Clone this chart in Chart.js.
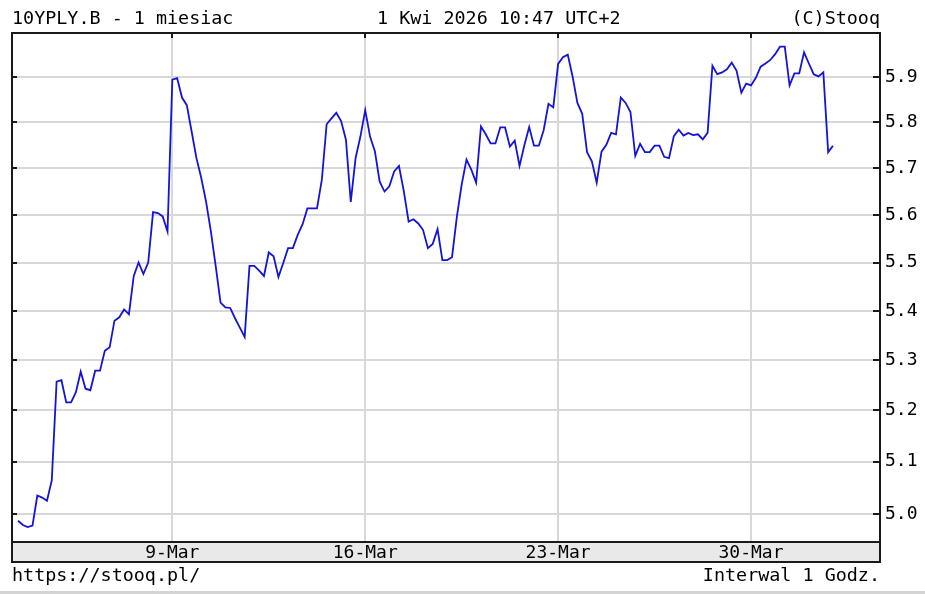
<!DOCTYPE html>
<html>
<head>
<meta charset="utf-8">
<script src="https://cdn.jsdelivr.net/npm/chart.js@4.4.1/dist/chart.umd.min.js"></script>
<style>
  body { margin: 0; background: #fff; }
  #wrap { position: relative; width: 925px; height: 594px; font-family: "DejaVu Sans Mono", monospace; font-size: 18.4px; color: #000; }
  #wrap canvas { position: absolute; left: 0; top: 0; }
  .txt { position: absolute; white-space: pre; line-height: 18px; }
  .edge { position: absolute; left: 0; top: 591px; width: 925px; height: 3px; background: #d4d4d4; }
</style>
</head>
<body>
<div id="wrap">
  <canvas id="yieldChart" width="925" height="594"></canvas>
  <div class="txt" style="left:12px; top:9px;">10YPLY.B - 1 miesiac</div>
  <div class="txt" style="left:377px; top:9px;">1 Kwi 2026 10:47 UTC+2</div>
  <div class="txt" style="right:45px; top:9px;">(C)Stooq</div>
  <div class="txt" style="left:12px; top:566px;">https://stooq.pl/</div>
  <div class="txt" style="right:45px; top:566px;">Interwal 1 Godz.</div>
  <div class="edge"></div>
</div>
<script>
// hourly closes, 8 bars per trading day, from Mar 3 to Apr 1 10:00
const yields = [
  4.987, 4.979, 4.975, 4.978, 5.035, 5.031, 5.025, 5.064,
  5.257, 5.260, 5.216, 5.216, 5.236, 5.277, 5.243, 5.240,
  5.279, 5.279, 5.319, 5.326, 5.380, 5.387, 5.403, 5.393,
  5.472, 5.500, 5.476, 5.500, 5.606, 5.604, 5.597, 5.565,
  5.895, 5.898, 5.855, 5.838, 5.780, 5.722, 5.679, 5.628,
  5.565, 5.492, 5.417, 5.407, 5.406, 5.385, 5.366, 5.347,
  5.493, 5.493, 5.483, 5.472, 5.521, 5.513, 5.470, 5.499,
  5.530, 5.530, 5.558, 5.580, 5.614, 5.614, 5.614, 5.675,
  5.796, 5.809, 5.821, 5.803, 5.762, 5.628, 5.722, 5.769,
  5.827, 5.769, 5.737, 5.671, 5.650, 5.661, 5.693, 5.705,
  5.651, 5.586, 5.591, 5.582, 5.568, 5.530, 5.539, 5.570,
  5.505, 5.505, 5.511, 5.596, 5.665, 5.719, 5.697, 5.669,
  5.791, 5.774, 5.754, 5.754, 5.789, 5.789, 5.747, 5.760,
  5.705, 5.750, 5.790, 5.749, 5.749, 5.783, 5.841, 5.833,
  5.930, 5.945, 5.951, 5.902, 5.843, 5.819, 5.735, 5.715,
  5.669, 5.736, 5.751, 5.777, 5.774, 5.855, 5.843, 5.823,
  5.727, 5.753, 5.735, 5.735, 5.749, 5.749, 5.725, 5.722,
  5.770, 5.784, 5.771, 5.777, 5.772, 5.774, 5.763, 5.777,
  5.926, 5.907, 5.911, 5.918, 5.933, 5.915, 5.866, 5.886,
  5.882, 5.899, 5.924, 5.931, 5.939, 5.952, 5.969, 5.969,
  5.882, 5.909, 5.909, 5.956, 5.931, 5.907, 5.902, 5.911,
  5.735, 5.749
];

// bar index where each labelled week starts
const weekStart = [32, 72, 112, 152];
const weekLabels = ["9-Mar", "16-Mar", "23-Mar", "30-Mar"];
const yTicks = [5.0, 5.1, 5.2, 5.3, 5.4, 5.5, 5.6, 5.7, 5.8, 5.9];

const monoFont = { family: "DejaVu Sans Mono", size: 18 };
const gridColor = "#d8d8d8";

const framePlugin = {
  id: "frame",
  beforeDraw(chart) {
    const { ctx, chartArea: a } = chart;
    ctx.save();
    ctx.fillStyle = "#e9e9e9";
    ctx.fillRect(a.left, a.bottom, a.right - a.left, 20);
    ctx.restore();
  },
  afterDraw(chart) {
    const { ctx, chartArea: a, scales } = chart;
    ctx.save();
    ctx.strokeStyle = "#1a1a1a";
    ctx.lineWidth = 2;
    ctx.strokeRect(a.left, a.top, a.right - a.left, a.bottom - a.top + 20);
    ctx.beginPath();
    ctx.moveTo(a.left, a.bottom);
    ctx.lineTo(a.right, a.bottom);
    // small inner tick marks
    yTicks.forEach((v) => {
      const y = Math.round(scales.y.getPixelForValue(v));
      ctx.moveTo(a.right - 7, y);
      ctx.lineTo(a.right, y);
      ctx.moveTo(a.left, y);
      ctx.lineTo(a.left + 5, y);
    });
    weekStart.forEach((i) => {
      const x = Math.round(scales.x.getPixelForValue(i));
      ctx.moveTo(x, a.top);
      ctx.lineTo(x, a.top + 5);
    });
    ctx.stroke();
    ctx.restore();
  },
};

const ctx = document.getElementById("yieldChart").getContext("2d");
new Chart(ctx, {
  type: "line",
  data: {
    datasets: [
      {
        data: yields.map((v, i) => ({ x: i, y: v })),
        borderColor: "#1414d8",
        borderWidth: 1.8,
        pointRadius: 0,
        tension: 0,
        fill: false,
      },
    ],
  },
  options: {
    responsive: false,
    animation: false,
    events: [],
    layout: { padding: { left: 12, top: 33, right: 0, bottom: 32 } },
    plugins: { legend: { display: false }, tooltip: { enabled: false } },
    scales: {
      x: {
        type: "linear",
        bounds: "data",
        min: -1.25,
        max: 178.75,
        afterBuildTicks: (s) => {
          s.ticks = weekStart.map((v) => ({ value: v }));
        },
        afterFit: (s) => {
          s.height = 20;
        },
        grid: { color: gridColor, lineWidth: 2, drawTicks: false },
        border: { display: false },
        ticks: {
          padding: 1,
          color: "#000",
          font: monoFont,
          maxRotation: 0,
          autoSkip: false,
          callback: (v) => {
            const k = weekStart.indexOf(v);
            return k >= 0 ? weekLabels[k] : "";
          },
        },
      },
      y: {
        type: "logarithmic",
        position: "right",
        bounds: "data",
        min: 4.947,
        max: 6.0,
        afterBuildTicks: (s) => {
          s.ticks = yTicks.map((v) => ({ value: v }));
          s.min = 4.947;
          s.max = 6.0;
        },
        afterFit: (s) => {
          s.width = 45;
        },
        grid: { color: gridColor, lineWidth: 2, drawTicks: false },
        border: { display: false },
        ticks: {
          padding: 5,
          color: "#000",
          font: monoFont,
          callback: (v) => Number(v).toFixed(1),
        },
      },
    },
  },
  plugins: [framePlugin],
});
</script>
</body>
</html>
